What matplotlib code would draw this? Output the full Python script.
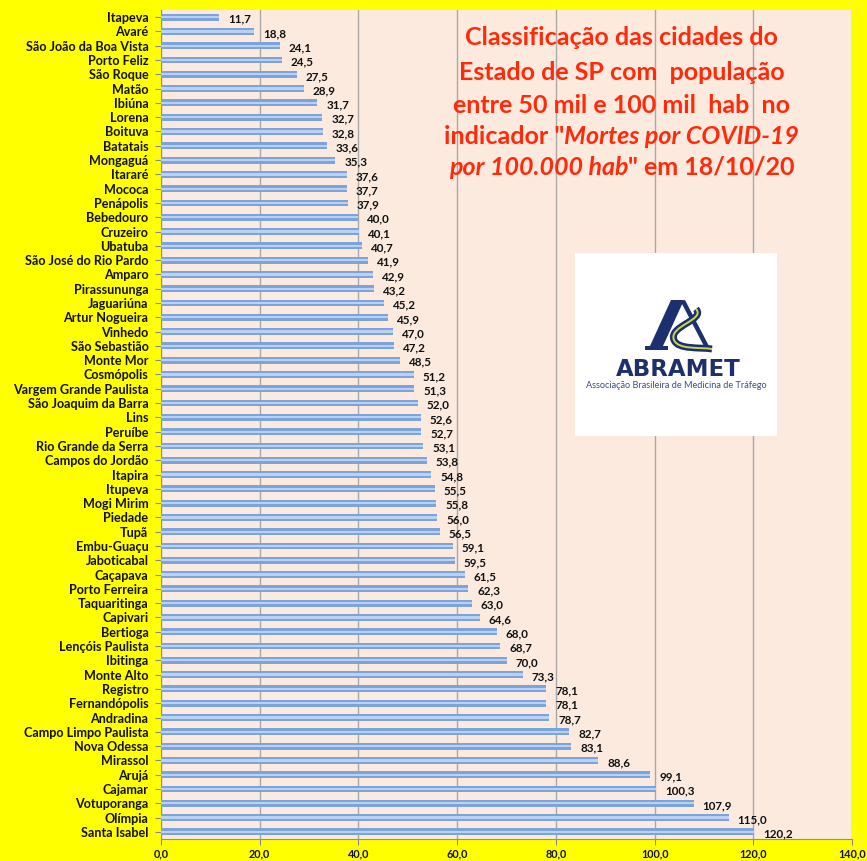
import matplotlib
matplotlib.use("Agg")
import matplotlib.pyplot as plt
from matplotlib.patches import Rectangle, Polygon, PathPatch
from matplotlib.path import Path

cities = ["Itapeva", "Avaré", "São João da Boa Vista", "Porto Feliz", "São Roque", "Matão",
          "Ibiúna", "Lorena", "Boituva", "Batatais", "Mongaguá", "Itararé", "Mococa",
          "Penápolis", "Bebedouro", "Cruzeiro", "Ubatuba", "São José do Rio Pardo", "Amparo",
          "Pirassununga", "Jaguariúna", "Artur Nogueira", "Vinhedo", "São Sebastião",
          "Monte Mor", "Cosmópolis", "Vargem Grande Paulista", "São Joaquim da Barra", "Lins",
          "Peruíbe", "Rio Grande da Serra", "Campos do Jordão", "Itapira", "Itupeva",
          "Mogi Mirim", "Piedade", "Tupã", "Embu-Guaçu", "Jaboticabal", "Caçapava",
          "Porto Ferreira", "Taquaritinga", "Capivari", "Bertioga", "Lençóis Paulista",
          "Ibitinga", "Monte Alto", "Registro", "Fernandópolis", "Andradina",
          "Campo Limpo Paulista", "Nova Odessa", "Mirassol", "Arujá", "Cajamar",
          "Votuporanga", "Olímpia", "Santa Isabel"]
values = [11.7, 18.8, 24.1, 24.5, 27.5, 28.9, 31.7, 32.7, 32.8, 33.6, 35.3, 37.6, 37.7,
          37.9, 40.0, 40.1, 40.7, 41.9, 42.9, 43.2, 45.2, 45.9, 47.0, 47.2, 48.5, 51.2,
          51.3, 52.0, 52.6, 52.7, 53.1, 53.8, 54.8, 55.5, 55.8, 56.0, 56.5, 59.1, 59.5,
          61.5, 62.3, 63.0, 64.6, 68.0, 68.7, 70.0, 73.3, 78.1, 78.1, 78.7, 82.7, 83.1,
          88.6, 99.1, 100.3, 107.9, 115.0, 120.2]
xticks = [0, 20, 40, 60, 80, 100, 120, 140]
title_lines = ["Classificação das cidades do", "Estado de SP com  população",
               "entre 50 mil e 100 mil  hab  no"]

FONT = "Lato"
W, H = 867, 861
fig = plt.figure(figsize=(8.67, 8.61), dpi=100, facecolor="#FFFF00")
ax = fig.add_axes([161 / W, 1 - 839 / H, 691 / W, 829 / H])
ax.set_facecolor("#FCEADE")

n = len(cities)
ypos = list(range(n))
ax.barh(ypos, values, height=0.48, color="#7BA4DD", zorder=3)
ax.barh(ypos, values, height=0.16, color="#B9D1F2", zorder=4)
for y, v in zip(ypos, values):
    ax.annotate(f"{v:.1f}".replace(".", ","), (v, y), xytext=(6.5, -1.5), textcoords="offset points",
                ha="left", va="center", fontsize=8.4, fontweight="bold", color="#111111",
                family=FONT, zorder=5)

ax.set_ylim(n - 0.5, -0.5)
ax.set_xlim(0, 140)
ax.set_yticks(ypos)
ax.set_yticklabels(cities, fontsize=9.1, fontweight="bold", family=FONT, color="#111111")
ax.set_xticks(xticks)
ax.set_xticklabels([f"{t:.1f}".replace(".", ",") for t in xticks], fontsize=7.8,
                   fontweight="bold", family=FONT, color="#111133")
ax.tick_params(axis="y", length=4, color="#888888", pad=5)
ax.tick_params(axis="x", length=4, color="#888888", pad=2.5)
ax.grid(axis="x", color="#A8A8A8", linewidth=1, zorder=1)
for s in ["top", "right"]:
    ax.spines[s].set_visible(False)
for s in ["left", "bottom"]:
    ax.spines[s].set_color("#909090")

# Title
TFS = 18
tx = 0.717
ys = [0.957, 0.916, 0.877, 0.841, 0.806]
for line, y in zip(title_lines, ys):
    fig.text(tx, y, line, ha="center", va="center", fontsize=TFS, fontweight="bold",
             color="#FF2A0A", family=FONT)
t1 = fig.text(0.5, ys[3], "indicador \"", ha="left", va="center", fontsize=TFS,
              fontweight="bold", color="#FF2A0A", family=FONT)
t2 = fig.text(0.0, ys[3], "Mortes por COVID-19", ha="left", va="center", fontsize=TFS,
              fontweight="bold", style="italic", color="#FF2A0A", family=FONT)
t3 = fig.text(0.5, ys[4], "por 100.000 hab", ha="left", va="center", fontsize=TFS,
              fontweight="bold", style="italic", color="#FF2A0A", family=FONT)
t4 = fig.text(0.0, ys[4], "\" em 18/10/20", ha="left", va="center", fontsize=TFS,
              fontweight="bold", color="#FF2A0A", family=FONT)
fig.canvas.draw()
r = fig.canvas.get_renderer()
for a, b in [(t1, t2), (t3, t4)]:
    wa = a.get_window_extent(r).width / fig.bbox.width
    wb = b.get_window_extent(r).width / fig.bbox.width
    x0 = tx - (wa + wb) / 2
    a.set_x(x0)
    b.set_x(x0 + wa)

# Logo box
def P(x, y):
    return (x / W, 1 - y / H)

fig.patches.append(Rectangle(P(575, 436), 202 / W, 183 / H, transform=fig.transFigure,
                             facecolor="white", edgecolor="none", zorder=10))
navy = "#1C2F6E"
left_leg = [P(671, 300), P(684, 300), P(663, 346), P(668, 346), P(668, 350), P(645, 350),
            P(645, 346), P(650, 346)]
fig.patches.append(Polygon(left_leg, closed=True, transform=fig.transFigure, facecolor=navy,
                           edgecolor="none", zorder=11))
right_leg = [P(681, 302), P(685, 300), P(711, 350), P(706, 350)]
fig.patches.append(Polygon(right_leg, closed=True, transform=fig.transFigure, facecolor=navy,
                           edgecolor="none", zorder=11))
road = Path([P(696, 309), P(706, 320), P(668, 326), P(674, 340), P(678, 350), P(700, 347),
             P(712, 349)],
            [Path.MOVETO, Path.CURVE4, Path.CURVE4, Path.CURVE4, Path.CURVE4, Path.CURVE4,
             Path.CURVE4])
fig.patches.append(PathPatch(road, transform=fig.transFigure, facecolor="none",
                             edgecolor=navy, linewidth=5, zorder=11))
fig.patches.append(PathPatch(road, transform=fig.transFigure, facecolor="none",
                             edgecolor="#C8D84A", linewidth=1.4, zorder=12))
fig.text(678 / W, 1 - 369 / H, "ABRAMET", ha="center", va="center", fontsize=16.5,
         fontweight="bold", color=navy, family="DejaVu Sans", zorder=12)
fig.text(676 / W, 1 - 386 / H, "Associação Brasileira de Medicina de Tráfego", ha="center",
         va="center", fontsize=6.6, color="#3A4C8A", family=FONT, zorder=12)

fig.savefig("out.png", dpi=100, facecolor=fig.get_facecolor())
